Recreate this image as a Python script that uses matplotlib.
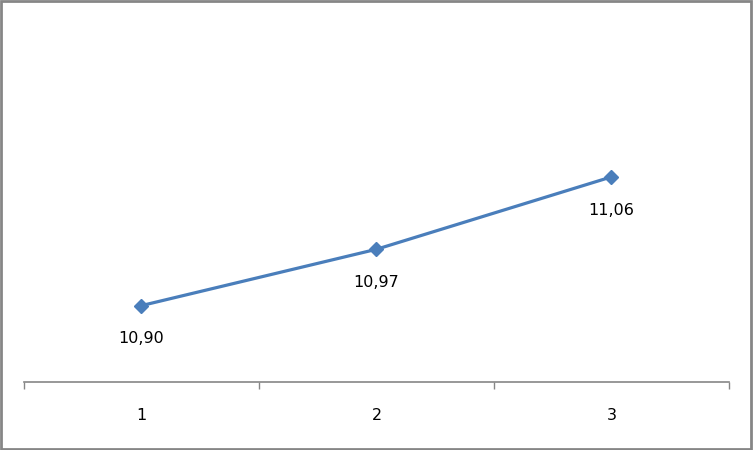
import matplotlib.pyplot as plt
from matplotlib.patches import Rectangle

# category labels and series values
categories = ['1', '2', '3']
values = [10.90, 10.97, 11.06]
value_labels = ['10,90', '10,97', '11,06']

line_color = '#4A7EBB'

fig = plt.figure(figsize=(7.53, 4.50), dpi=100)
ax = fig.add_axes([24 / 753, (450 - 382) / 450, (729 - 24) / 753, (382 - 20) / 450])

x = [0.5, 1.5, 2.5]
ax.plot(x, values, color=line_color, linewidth=2.3, marker='D', markersize=7.5,
        markerfacecolor=line_color, markeredgecolor=line_color, zorder=3)

# data labels below the points
for xi, v, lab in zip(x, values, value_labels):
    ax.annotate(lab, (xi, v), xytext=(0, -24), textcoords='offset points',
                ha='center', va='center', fontsize=11.5, color='black')

ax.set_xlim(0, 3)
ax.set_ylim(10.805, 11.255)

# category axis: ticks between categories, labels centred
ax.set_xticks([0, 1, 2, 3])
ax.set_xticklabels([])
ax.set_xticks(x, minor=True)
ax.set_xticklabels(categories, minor=True, fontsize=11.5)
ax.tick_params(axis='x', which='major', direction='out', length=5, width=1, color='#868686')
ax.tick_params(axis='x', which='minor', length=0, pad=19)
ax.set_yticks([])

for side in ['top', 'right', 'left']:
    ax.spines[side].set_visible(False)
ax.spines['bottom'].set_color('#868686')
ax.spines['bottom'].set_linewidth(1.2)

# chart area border
fig.patches.append(Rectangle((0.001, 0.002), 0.997, 0.996, transform=fig.transFigure,
                             fill=False, edgecolor='#868686', linewidth=2))

fig.savefig('out.png', dpi=100)
